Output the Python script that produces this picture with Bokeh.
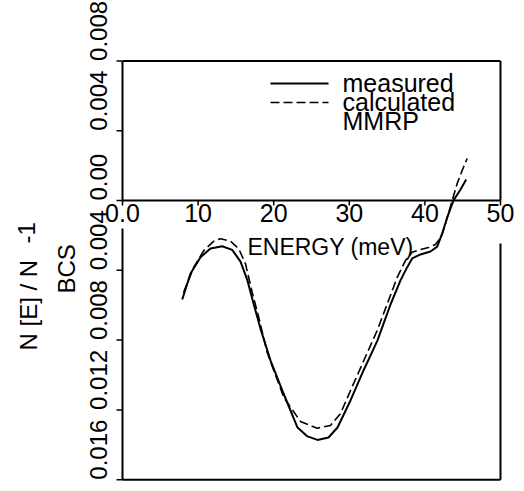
import math
from bokeh.plotting import figure
from bokeh.models import Range1d
from bokeh.core.properties import value
from bokeh.embed import file_html
from bokeh.resources import INLINE

# ---- data ----
energy_measured = [7.90, 9.00, 10.32, 11.64, 13.19, 14.51, 15.61, 16.49, 17.37, 18.25,
                   19.58, 21.30, 23.15, 24.47, 25.79, 27.25, 28.44, 30.16, 31.88, 33.73,
                   35.45, 36.77, 37.66, 38.32, 39.42, 40.74, 41.63, 42.29, 42.95, 43.78,
                   44.71, 45.46]
nn_measured = [-5.67, -4.18, -3.25, -2.75, -2.62, -2.83, -3.50, -4.53, -5.96, -7.34,
               -9.17, -11.06, -13.01, -13.52, -13.72, -13.58, -13.01, -11.46, -9.74, -8.02,
               -5.96, -4.58, -3.82, -3.32, -3.09, -2.92, -2.64, -1.89, -0.97, 0.00,
               0.63, 1.20]
energy_calculated = [8.07, 9.43, 10.75, 12.08, 12.96, 14.29, 15.38, 16.27, 17.16, 17.99,
                     19.14, 21.34, 23.54, 25.75, 27.51, 28.84, 30.16, 31.92, 33.69, 35.19,
                     36.34, 37.43, 38.32, 39.42, 40.48, 41.40, 42.16, 42.72, 43.61, 44.27,
                     44.93, 45.59]
nn_calculated = [-5.27, -3.82, -2.87, -2.33, -2.19, -2.33, -2.77, -3.63, -5.27, -6.65,
                 -8.71, -11.29, -12.66, -13.05, -12.89, -12.21, -10.89, -9.17, -7.45, -5.73,
                 -4.40, -3.44, -2.96, -2.81, -2.69, -2.52, -2.10, -1.32, 0.00, 0.97,
                 1.72, 2.41]
x_ticks = [0, 10, 20, 30, 40, 50]
x_tick_labels = ["0.0", "10", "20", "30", "40", "50"]
y_ticks = [0.008, 0.004, 0.0, -0.004, -0.008, -0.012, -0.016]
y_tick_labels = ["0.008", "0.004", "0.00", "0.004", "0.008", "0.012", "0.016"]
legend_labels = ["measured", "calculated", "MMRP"]
x_label = "ENERGY (meV)"

nn_measured_v = [v * 1e-3 for v in nn_measured]
nn_calculated_v = [v * 1e-3 for v in nn_calculated]

# ---- layout (pixel mapping of the canvas) ----
W, H = 524, 491
X0PX, SX = 122.0, 7.56      # px of energy 0, px per meV
Y0PX, SY = 200.0, 17450.0   # px of value 0, px per unit


def px2x(px):
    return (px - X0PX) / SX


def px2y(py):
    return (Y0PX - py) / SY


FONT = value("Liberation Sans")

p = figure(width=W, height=H,
           x_range=Range1d(px2x(0), px2x(W)), y_range=Range1d(px2y(H), px2y(0)),
           output_backend="svg", toolbar_location=None,
           x_axis_type=None, y_axis_type=None, min_border=0)
p.min_border_left = p.min_border_right = p.min_border_top = p.min_border_bottom = 0
p.outline_line_color = None
p.background_fill_color = "white"
p.border_fill_color = "white"

xmin, xmax = x_ticks[0], x_ticks[-1]
ytop, ybot = y_ticks[0], y_ticks[-1]

# frame lines
p.segment(x0=[xmin, xmin, xmax, xmin, xmin, xmax, xmin],
          y0=[ytop, 0.0, 0.0, 0.0, px2y(228), px2y(243), ybot],
          x1=[xmax, xmin, xmax, xmax, xmin, xmax, xmax],
          y1=[ytop, ytop, ytop, 0.0, ybot, ybot, ybot],
          line_color="black", line_width=2)

# x ticks (pointing down from the zero line)
tick_dy = 5.0 / SY
p.segment(x0=x_ticks, y0=[0.0] * len(x_ticks), x1=x_ticks,
          y1=[-tick_dy] * len(x_ticks), line_color="black", line_width=1.5)
# y ticks (pointing left)
tick_dx = 6.0 / SX
p.segment(x0=[xmin] * len(y_ticks), y0=y_ticks, x1=[xmin - tick_dx] * len(y_ticks),
          y1=y_ticks, line_color="black", line_width=1.5)

# curves
p.line(energy_measured, nn_measured_v, line_color="black", line_width=2)
p.line(energy_calculated, nn_calculated_v, line_color="black", line_width=1.6,
       line_dash="9 4")

# tick labels
p.text(x=x_ticks, y=[0.0] * len(x_ticks), text=x_tick_labels, text_font=FONT,
       text_font_size="25px", text_align="center", text_baseline="top",
       y_offset=3, text_color="black")
p.text(x=[px2x(98)] * len(y_ticks), y=y_ticks, text=y_tick_labels, text_font=FONT,
       text_font_size="24px", text_align="left", text_baseline="middle",
       angle=math.pi / 2, text_color="black")

# axis titles
p.text(x=[px2x(330)], y=[px2y(246.5)], text=[x_label], text_font=FONT,
       text_font_size="23px", text_align="center", text_baseline="middle",
       text_color="black")
p.text(x=[px2x(27.5), px2x(26), px2x(66)], y=[px2y(350), px2y(243), px2y(293)],
       text=["N [E] / N", "-1", "BCS"], text_font=FONT, text_font_size="24px",
       text_align="left", text_baseline="middle", angle=math.pi / 2,
       text_color="black")

# legend
p.segment(x0=[px2x(270)], y0=[px2y(83)], x1=[px2x(328)], y1=[px2y(83)],
          line_color="black", line_width=2)
p.segment(x0=[px2x(270)], y0=[px2y(102)], x1=[px2x(328)], y1=[px2y(102)],
          line_color="black", line_width=1.6, line_dash="9 4")
p.text(x=[px2x(342)] * 3, y=[px2y(82), px2y(101), px2y(120)], text=legend_labels,
       text_font=FONT, text_font_size="25px", text_align="left",
       text_baseline="middle", text_color="black")

open("out.html", "w").write(file_html(p, INLINE))
